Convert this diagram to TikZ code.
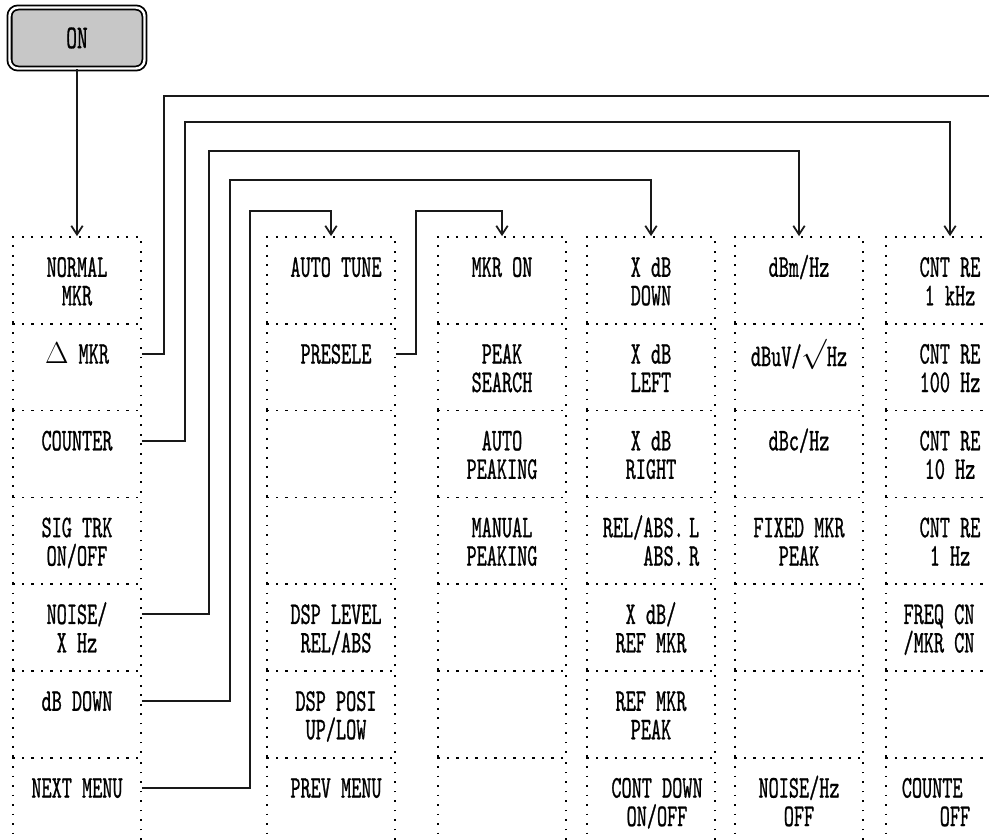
\documentclass[tikz,border=0pt]{standalone}
\usepackage{fontspec}
\newfontfamily\plotfont{lmmono10-regular.otf}[FakeStretch=0.61,FakeBold=0.8]
\usetikzlibrary{calc,arrows.meta}
\tikzset{
    cell/.style={draw, line width=1pt, dash pattern=on 1pt off 4.4pt,
        minimum width=2.56cm, minimum height=1.736cm, inner sep=0pt},
    key text/.style={font=\plotfont\fontsize{18}{16.2}\selectfont,
        align=center, anchor=north, inner sep=0pt},
    on key/.style={draw, rounded corners=0.17cm, double, double distance=1.4pt,
        line width=1pt, fill=black!22, minimum width=2.7cm, minimum height=1.22cm,
        font=\plotfont\fontsize{19}{16.2}\selectfont},
    link/.style={line width=1pt, black!90},
    tip/.style={-{Straight Barb[length=5pt,width=6.5pt]}}
}
% one soft key: cell frame plus its label
\newcommand{\Cell}[5][]{%
    \node[cell] (#2) at (#3,{280.4+(#4-1)*86.8}) {};
    \node[key text,#1] (#2t) at ($(#2.north)+(0,15)$) {\rule{0pt}{0.8em}#5};
}
\newcommand{\Blank}[3]{%
    \node[cell] (#1) at (#2,{280.4+(#3-1)*86.8}) {};
}

\begin{document}
\begin{tikzpicture}[x=0.02cm,y=-0.02cm]
    \useasboundingbox (0,0) rectangle (989,839);
    \clip (0,0) rectangle (989,839);

    \node[on key] (on) at (77,38) {ON};

    % menu 1
    \Cell{a1}{77}{1}{NORMAL\\MKR}
    \Cell{a2}{77}{2}{$\Delta$ MKR}
    \Cell{a3}{77}{3}{COUNTER}
    \Cell{a4}{77}{4}{SIG TRK\\ON/OFF}
    \Cell{a5}{77}{5}{NOISE/\\X Hz}
    \Cell{a6}{77}{6}{dB DOWN}
    \Cell{a7}{77}{7}{NEXT MENU}

    % menu 2
    \Cell[xshift=0.1cm]{b1}{331}{1}{AUTO TUNE}
    \Cell[xshift=0.1cm]{b2}{331}{2}{PRESELE}
    \Blank{b3}{331}{3}
    \Blank{b4}{331}{4}
    \Cell[xshift=0.1cm]{b5}{331}{5}{DSP LEVEL\\REL/ABS}
    \Cell[xshift=0.1cm]{b6}{331}{6}{DSP POSI\\UP/LOW}
    \Cell[xshift=0.1cm]{b7}{331}{7}{PREV MENU}

    % marker
    \Cell{c1}{502}{1}{MKR ON}
    \Cell{c2}{502}{2}{PEAK\\SEARCH}
    \Cell{c3}{502}{3}{AUTO\\PEAKING}
    \Cell{c4}{502}{4}{MANUAL\\PEAKING}
    \Blank{c5}{502}{5}
    \Blank{c6}{502}{6}
    \Blank{c7}{502}{7}

    % dB down
    \Cell{d1}{651}{1}{X dB\\DOWN}
    \Cell{d2}{651}{2}{X dB\\LEFT}
    \Cell{d3}{651}{3}{X dB\\RIGHT}
    \Cell[align=right]{d4}{651}{4}{REL/ABS.\,L\\ABS.\,R}
    \Cell{d5}{651}{5}{X dB/\\REF MKR}
    \Cell{d6}{651}{6}{REF MKR\\PEAK}
    \Cell[xshift=0.12cm]{d7}{651}{7}{CONT DOWN\\ON/OFF}

    % noise
    \Cell{e1}{799}{1}{dBm/Hz}
    \Cell{e2}{799}{2}{dBuV/$\sqrt{\vphantom{H}}$Hz}
    \Cell{e3}{799}{3}{dBc/Hz}
    \Cell{e4}{799}{4}{FIXED MKR\\PEAK}
    \Blank{e5}{799}{5}
    \Blank{e6}{799}{6}
    \Cell{e7}{799}{7}{NOISE/Hz\\OFF}

    % counter
    \Cell{f1}{950}{1}{CNT RE\\1 kHz}
    \Cell{f2}{950}{2}{CNT RE\\100 Hz}
    \Cell{f3}{950}{3}{CNT RE\\10 Hz}
    \Cell{f4}{950}{4}{CNT RE\\1 Hz}
    \Cell[xshift=-0.22cm]{f5}{950}{5}{FREQ CN\\/MKR CN}
    \Blank{f6}{950}{6}
    \Cell[align=left,xshift=-0.28cm]{f7}{950}{7}{COUNTE\\\hspace*{1.2em}OFF}

    \coordinate (offA) at (995,96);

    \draw[link,tip] (on) -- (a1.north);
    \draw[link] ($(a2.north east)+(0,31)$) -- ++(22,0) |- (offA);
    \draw[link,tip] ($(a3.north east)+(0,31)$) -- ++(43,0)
        |- ($(f1.north)+(0,-114)$) -- (f1.north);
    \draw[link,tip] ($(a5.north east)+(0,31)$) -- ++(67,0)
        |- ($(e1.north)+(0,-85)$) -- (e1.north);
    \draw[link,tip] ($(a6.north east)+(0,31)$) -- ++(88,0)
        |- ($(d1.north)+(0,-56)$) -- (d1.north);
    \draw[link,tip] ($(a7.north east)+(0,31)$) -- ++(108,0)
        |- ($(b1.north)+(0,-25)$) -- (b1.north);
    \draw[link,tip] ($(b2.north east)+(0,31)$) -- ++(20,0)
        |- ($(c1.north)+(0,-25)$) -- (c1.north);
\end{tikzpicture}
\end{document}
